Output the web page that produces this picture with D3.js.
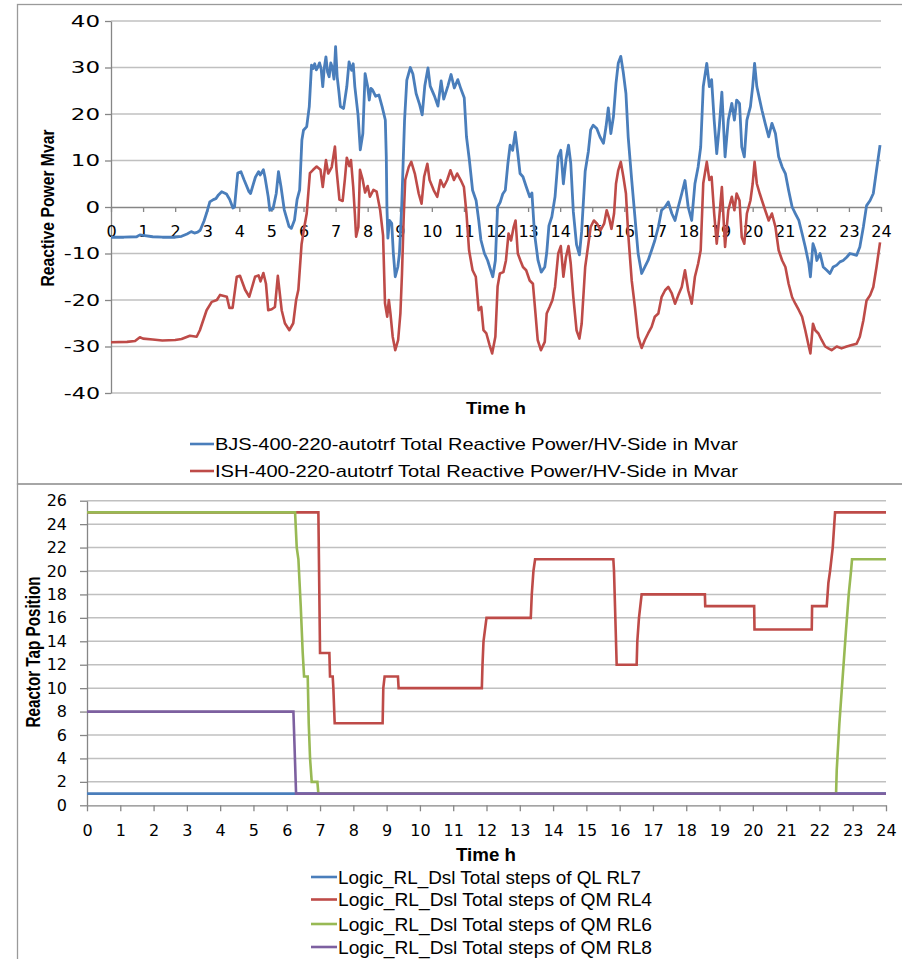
<!DOCTYPE html>
<html><head><meta charset="utf-8">
<script src="https://cdn.jsdelivr.net/npm/d3@7"></script>
<style>
html,body{margin:0;padding:0;background:#fff;}
svg{display:block;}
</style></head>
<body>
<svg id="c" width="902" height="959"></svg>
<script>
// ---------- DATA ----------
const hourTicks = d3.range(0, 25);
const mvarTicks = [-40, -30, -20, -10, 0, 10, 20, 30, 40];
const tapTicks = [0, 2, 4, 6, 8, 10, 12, 14, 16, 18, 20, 22, 24, 26];

const topLegend = ["BJS-400-220-autotrf Total Reactive Power/HV-Side in Mvar",
                   "ISH-400-220-autotrf Total Reactive Power/HV-Side in Mvar"];
const bottomLegend = ["Logic_RL_Dsl Total steps of QL RL7",
                      "Logic_RL_Dsl Total steps of QM RL4",
                      "Logic_RL_Dsl Total steps of QM RL6",
                      "Logic_RL_Dsl Total steps of QM RL8"];

const bjsTime = [0,0.4,0.8,0.9,1.0,1.3,1.6,2.0,2.2,2.37,2.5,2.6,2.7,2.78,2.9,2.98,3.08,3.19,3.27,3.35,3.45,3.6,3.7,3.8,3.85,3.95,4.05,4.15,4.3,4.35,4.5,4.6,4.65,4.75,4.8,4.9,4.95,5.05,5.15,5.22,5.3,5.4,5.55,5.62,5.72,5.8,5.88,5.95,6.0,6.1,6.18,6.25,6.3,6.35,6.4,6.45,6.5,6.55,6.6,6.65,6.7,6.75,6.8,6.85,6.9,6.95,7.0,7.05,7.1,7.15,7.25,7.35,7.42,7.5,7.55,7.6,7.7,7.77,7.85,7.92,8.0,8.05,8.1,8.15,8.25,8.35,8.45,8.55,8.58,8.6,8.63,8.68,8.75,8.8,8.86,8.94,8.99,9.06,9.15,9.22,9.33,9.41,9.51,9.62,9.7,9.78,9.88,9.95,10.08,10.19,10.29,10.37,10.5,10.6,10.7,10.81,10.91,11.01,11.08,11.17,11.27,11.38,11.46,11.53,11.64,11.74,11.82,11.9,11.98,12.05,12.13,12.21,12.29,12.37,12.44,12.52,12.6,12.68,12.75,12.84,12.94,13.05,13.12,13.2,13.31,13.41,13.52,13.58,13.65,13.74,13.84,13.94,14.02,14.1,14.18,14.26,14.33,14.41,14.51,14.6,14.67,14.78,14.88,14.95,15.03,15.14,15.24,15.35,15.43,15.5,15.58,15.66,15.74,15.81,15.89,15.97,16.05,16.12,16.23,16.33,16.43,16.54,16.64,16.74,16.85,16.95,17.06,17.16,17.27,17.37,17.48,17.58,17.68,17.79,17.89,17.99,18.1,18.2,18.3,18.38,18.46,18.57,18.65,18.72,18.8,18.88,18.96,19.04,19.14,19.24,19.35,19.43,19.5,19.59,19.66,19.74,19.82,19.93,20.0,20.06,20.13,20.22,20.29,20.39,20.5,20.6,20.71,20.81,20.92,21.02,21.12,21.23,21.33,21.44,21.54,21.64,21.75,21.8,21.88,21.95,22.0,22.1,22.2,22.31,22.41,22.51,22.62,22.72,22.82,22.93,23.03,23.14,23.24,23.34,23.45,23.55,23.66,23.76,23.86,23.97];
const bjsMvar = [-6.5,-6.5,-6.4,-6.0,-6.1,-6.4,-6.5,-6.5,-6.3,-5.8,-5.3,-5.6,-5.4,-5.0,-3.0,-1.3,1.1,1.6,1.8,2.6,3.3,2.8,1.6,-0.2,0.0,7.3,7.6,5.8,3.3,2.9,6.4,7.6,6.9,8.0,6.4,2.2,-0.7,-0.4,2.9,7.6,4.3,-0.6,-4.2,-4.6,-2.8,1.6,3.7,14.4,16.5,17.3,21.6,30.5,29.8,30.8,29.5,30.1,31.0,29.7,25.9,30.0,32.3,29.0,28.0,31.0,30.0,27.5,34.5,28.0,25.0,21.6,21.2,25.9,31.2,29.4,30.8,25.9,19.8,12.3,15.8,28.7,25.9,23.0,25.5,25.2,23.8,24.1,21.6,18.7,10.9,0.1,-6.7,-2.9,-3.5,-9.9,-15.0,-12.9,-10.0,0.0,18.7,27.3,30.0,28.6,24.4,22.0,19.8,26.0,29.9,26.0,23.9,21.7,27.1,23.2,26.0,28.5,25.6,27.4,25.3,23.5,15.1,10.1,3.6,1.4,-2.8,-7.1,-10.0,-11.5,-13.3,-15.0,-11.5,0.0,1.0,2.8,3.6,9.3,13.3,12.2,16.1,11.5,7.2,6.5,4.4,2.2,3.0,-5.7,-11.5,-14.0,-12.9,-9.9,-4.0,-2.1,2.2,10.8,12.2,5.0,10.1,13.3,9.4,-1.0,-8.1,-10.3,-5.2,7.7,12.0,16.6,17.6,16.9,15.1,13.7,17.3,21.3,15.8,19.4,26.6,30.9,32.4,28.8,24.4,15.1,5.8,-2.1,-10.0,-14.3,-12.9,-11.5,-9.3,-7.2,-4.3,-0.7,0.0,1.1,-1.4,-2.9,0.0,2.9,5.7,0.0,-2.9,5.0,8.6,12.9,25.9,30.9,25.9,27.4,18.7,11.5,17.3,24.7,10.8,18.7,22.3,18.7,23.0,22.3,12.9,10.8,18.7,21.6,25.9,30.9,25.9,23.0,20.8,18.0,15.1,18.0,15.8,10.8,8.6,7.2,3.6,0.0,-1.4,-2.9,-5.7,-8.6,-12.2,-15.0,-7.9,-9.3,-11.5,-10.0,-12.9,-13.6,-14.3,-12.9,-12.5,-11.8,-11.5,-10.8,-10.0,-10.2,-10.4,-8.6,-4.3,0.3,1.4,2.9,7.9,13.3];

const ishTime = [0,0.5,0.75,0.9,1.0,1.3,1.6,2.0,2.2,2.46,2.67,2.77,2.98,3.14,3.3,3.4,3.61,3.69,3.79,3.92,4.02,4.18,4.31,4.49,4.6,4.66,4.75,4.83,4.9,5.01,5.11,5.2,5.32,5.42,5.56,5.68,5.77,5.84,5.94,6.02,6.1,6.2,6.3,6.41,6.53,6.6,6.7,6.77,6.88,6.98,7.03,7.12,7.22,7.29,7.35,7.43,7.48,7.55,7.6,7.64,7.71,7.76,7.84,7.92,8.0,8.07,8.18,8.28,8.39,8.48,8.54,8.61,8.66,8.71,8.78,8.86,8.95,9.02,9.07,9.12,9.17,9.28,9.36,9.47,9.59,9.68,9.76,9.86,9.93,10.06,10.17,10.27,10.37,10.48,10.58,10.69,10.79,10.9,11.0,11.08,11.16,11.27,11.37,11.46,11.54,11.61,11.7,11.8,11.88,11.98,12.05,12.12,12.23,12.31,12.39,12.47,12.55,12.61,12.68,12.76,12.84,12.94,13.05,13.15,13.23,13.3,13.4,13.52,13.58,13.67,13.76,13.84,13.94,14.02,14.1,14.18,14.26,14.33,14.41,14.51,14.6,14.67,14.78,14.88,14.95,15.05,15.15,15.26,15.37,15.45,15.53,15.6,15.68,15.74,15.81,15.89,15.97,16.05,16.12,16.23,16.33,16.43,16.54,16.64,16.74,16.85,16.95,17.06,17.16,17.27,17.37,17.48,17.58,17.68,17.79,17.89,17.99,18.1,18.2,18.3,18.38,18.46,18.57,18.65,18.72,18.8,18.88,18.96,19.04,19.14,19.24,19.35,19.43,19.5,19.59,19.66,19.74,19.82,19.93,20.0,20.06,20.13,20.22,20.29,20.39,20.5,20.6,20.71,20.81,20.92,21.02,21.12,21.23,21.33,21.44,21.54,21.64,21.75,21.8,21.88,21.95,22.05,22.15,22.26,22.36,22.46,22.62,22.77,22.93,23.09,23.24,23.34,23.45,23.55,23.66,23.76,23.86,23.97];
const ishMvar = [-29.1,-29.0,-28.8,-28.0,-28.3,-28.5,-28.7,-28.6,-28.4,-27.7,-27.9,-26.5,-22.2,-20.4,-20.0,-18.9,-19.3,-21.7,-21.7,-15.0,-14.8,-17.8,-19.3,-15.0,-14.7,-16.0,-14.2,-16.5,-22.2,-22.0,-21.5,-14.8,-22.2,-25.0,-26.5,-25.0,-20.0,-17.8,-8.0,-4.5,-1.4,7.3,8.0,8.7,8.0,4.3,10.1,7.2,8.6,13.0,8.0,1.6,1.3,6.0,10.6,8.8,10.1,4.3,-1.4,-6.4,-4.3,8.0,6.0,3.1,4.5,2.2,3.7,3.3,-0.7,-6.1,-20.7,-23.6,-20.0,-22.9,-27.9,-30.8,-28.6,-22.9,-14.3,-2.8,5.8,8.6,9.7,7.2,2.9,0.7,6.5,9.3,5.8,3.6,2.2,5.8,4.3,5.8,7.9,5.8,7.2,5.8,4.3,-1.4,-9.3,-13.6,-15.0,-22.2,-21.5,-26.5,-27.2,-29.7,-31.5,-27.9,-17.1,-14.3,-14.0,-11.5,-5.7,-7.2,-4.3,-2.9,-10.0,-11.5,-12.9,-13.6,-15.8,-16.5,-22.9,-28.6,-30.8,-29.0,-22.9,-21.5,-20.0,-17.2,-10.0,-8.4,-15.0,-10.8,-8.4,-12.2,-19.4,-26.5,-28.3,-25.1,-12.9,-7.9,-4.3,-2.9,-3.6,-5.0,-3.6,-0.7,-2.5,-4.7,-1.4,5.0,7.9,9.7,6.5,2.9,-5.7,-15.8,-21.5,-27.9,-30.3,-28.6,-27.2,-25.8,-23.6,-22.9,-19.4,-17.9,-17.2,-18.6,-20.8,-19.0,-17.2,-13.6,-17.9,-20.8,-15.0,-12.2,-9.3,5.1,9.7,5.8,6.5,-1.4,-7.9,-2.2,4.3,-8.6,-0.7,2.2,-0.7,2.9,1.4,-6.5,-7.9,-1.4,1.4,5.0,9.7,5.0,2.9,1.4,-0.7,-2.9,-1.4,-4.3,-9.3,-11.5,-12.9,-16.5,-19.4,-20.8,-22.2,-23.6,-26.5,-30.0,-31.5,-25.1,-26.5,-27.2,-28.6,-30.0,-30.4,-30.8,-30.0,-30.4,-30.0,-29.7,-29.4,-27.9,-24.4,-20.1,-19.0,-17.2,-12.9,-7.6];

const rl7Time = [0, 24];
const rl7Steps = [1, 1];
const rl4Time = [0,6.95,7.0,7.28,7.3,7.38,7.4,7.44,8.88,8.9,8.94,9.34,9.36,11.86,11.88,11.91,12.0,13.33,13.36,13.41,13.46,15.81,15.83,15.86,15.91,16.51,16.53,16.58,16.66,18.56,18.57,20.04,20.05,21.77,21.78,22.22,22.27,22.32,22.4,22.47,24];
const rl4Steps = [25,25,13,13,11,11,10,7,7,10,11,11,10,10,12,14,16,16,18,20,21,21,20,17,12,12,14,16,18,18,17,17,15,15,17,17,19,20,22,25,25];
const rl6Time = [0,6.25,6.3,6.35,6.42,6.48,6.52,6.63,6.66,6.7,6.75,6.92,6.95,22.5,22.52,22.6,22.7,22.8,22.88,22.95,22.98,24];
const rl6Steps = [25,25,22,21,17,13,11,11,7,4,2,2,1,1,3,7,11,15,18,20,21,21];
const rl8Time = [0,6.2,6.28,24];
const rl8Steps = [8,8,1,1];

// ---------- COLOURS ----------
const cBlue = "#4a7ebb", cRed = "#be4b48", cGreen = "#98b954", cPurple = "#7d60a0";
const gridCol = "#c0c0c0", axisCol = "#868686", borderCol = "#9a9a9a";
const tickFont = "'DejaVu Sans', Verdana, sans-serif";
const textFont = "'Liberation Sans Narrow', 'Liberation Sans', Arial, sans-serif";
const plainFmt = d => String(d);

const svg = d3.select("#c");

// frames
svg.append("rect").attr("x",17.5).attr("y",4.5).attr("width",900).attr("height",479.5)
  .attr("fill","none").attr("stroke",borderCol).attr("stroke-width",1.3);
svg.append("rect").attr("x",17.5).attr("y",484).attr("width",900).attr("height",490)
  .attr("fill","none").attr("stroke",borderCol).attr("stroke-width",1.3);

function fitText(sel, len){ sel.attr("textLength",len).attr("lengthAdjust","spacingAndGlyphs"); }

// ---------- TOP CHART ----------
const xT = d3.scaleLinear().domain([0,24]).range([111,881]);
const yT = d3.scaleLinear().domain([-40,40]).range([393,21]);
const gT = svg.append("g");

gT.append("g").selectAll("line").data(mvarTicks.filter(d=>d!==0)).join("line")
  .attr("x1",xT(0)).attr("x2",xT(24)).attr("y1",d=>yT(d)).attr("y2",d=>yT(d))
  .attr("stroke",gridCol).attr("stroke-width",1.5);

const yAxT = gT.append("g").attr("transform",`translate(${xT(0)},0)`)
  .call(d3.axisLeft(yT).tickValues(mvarTicks).tickFormat(plainFmt).tickSize(6).tickPadding(5).tickSizeOuter(0));
yAxT.select(".domain").attr("stroke",axisCol).attr("stroke-width",1.3);
yAxT.selectAll(".tick line").attr("stroke",axisCol).attr("stroke-width",1.3);
yAxT.selectAll(".tick text").attr("font-family",tickFont).attr("font-size",16).attr("fill","#000")
  .each(function(d){ const s=String(d); const len = s.replace("-","").length*14.6 + (s[0]==="-"?7:0);
     d3.select(this).attr("textLength",len).attr("lengthAdjust","spacingAndGlyphs"); });

const xAxT = gT.append("g").attr("transform",`translate(0,${yT(0)})`)
  .call(d3.axisBottom(xT).tickValues(hourTicks).tickFormat(plainFmt).tickSize(5).tickPadding(14).tickSizeOuter(0));
xAxT.select(".domain").attr("stroke",axisCol).attr("stroke-width",1.3);
xAxT.selectAll(".tick line").attr("stroke",axisCol).attr("stroke-width",1.3);
xAxT.selectAll(".tick text").attr("font-family",tickFont).attr("font-size",16).attr("fill","#000");

const lineT = d3.line().x(d=>xT(d[0])).y(d=>yT(d[1])).curve(d3.curveLinear);
const ishPts = ishTime.map((t,i)=>[t,ishMvar[i]]);
const bjsPts = bjsTime.map((t,i)=>[t,bjsMvar[i]]);
gT.append("path").attr("d",lineT(ishPts)).attr("fill","none").attr("stroke",cRed)
  .attr("stroke-width",2.6).attr("stroke-linejoin","round");
gT.append("path").attr("d",lineT(bjsPts)).attr("fill","none").attr("stroke",cBlue)
  .attr("stroke-width",2.8).attr("stroke-linejoin","round");

svg.append("text").attr("x",496).attr("y",414).attr("text-anchor","middle")
  .attr("font-family",textFont).attr("font-weight","bold").attr("font-size",17).text("Time h").call(fitText,60);
svg.append("text").attr("transform","translate(54,208) rotate(-90)").attr("text-anchor","middle")
  .attr("font-family",textFont).attr("font-weight","bold").attr("font-size",19).text("Reactive Power Mvar").call(fitText,157);

const topCols = [cBlue, cRed];
const topLegY = [444, 471];
topLegend.forEach((t,i)=>{
  svg.append("line").attr("x1",190).attr("x2",214).attr("y1",topLegY[i]).attr("y2",topLegY[i])
    .attr("stroke",topCols[i]).attr("stroke-width",2.6);
  svg.append("text").attr("x",215).attr("y",topLegY[i]+6).attr("font-family",textFont)
    .attr("font-size",17).text(t).call(fitText,523);
});

// ---------- BOTTOM CHART ----------
const xB = d3.scaleLinear().domain([0,24]).range([87,886]);
const yB = d3.scaleLinear().domain([0,26]).range([805.3,500.7]);
const gB = svg.append("g");

gB.append("g").selectAll("line").data(tapTicks.filter(d=>d!==0)).join("line")
  .attr("x1",xB(0)).attr("x2",xB(24)).attr("y1",d=>yB(d)).attr("y2",d=>yB(d))
  .attr("stroke",gridCol).attr("stroke-width",1.5);

const yAxB = gB.append("g").attr("transform",`translate(${xB(0)},0)`)
  .call(d3.axisLeft(yB).tickValues(tapTicks).tickFormat(plainFmt).tickSize(7).tickPadding(13).tickSizeOuter(0));
yAxB.select(".domain").attr("stroke",axisCol).attr("stroke-width",1.3);
yAxB.selectAll(".tick line").attr("stroke",axisCol).attr("stroke-width",1.3);
yAxB.selectAll(".tick text").attr("font-family",tickFont).attr("font-size",16).attr("fill","#000");

const xAxB = gB.append("g").attr("transform",`translate(0,${yB(0)})`)
  .call(d3.axisBottom(xB).tickValues(hourTicks).tickFormat(plainFmt).tickSize(6).tickPadding(13).tickSizeOuter(0));
xAxB.select(".domain").attr("stroke",axisCol).attr("stroke-width",1.3);
xAxB.selectAll(".tick line").attr("stroke",axisCol).attr("stroke-width",1.3);
xAxB.selectAll(".tick text").attr("font-family",tickFont).attr("font-size",16).attr("fill","#000");

const lineB = d3.line().x(d=>xB(d[0])).y(d=>yB(d[1]));
const seriesB = [
  {t:rl7Time, v:rl7Steps, c:cBlue},
  {t:rl4Time, v:rl4Steps, c:cRed},
  {t:rl6Time, v:rl6Steps, c:cGreen},
  {t:rl8Time, v:rl8Steps, c:cPurple}
];
seriesB.forEach(s=>{
  gB.append("path").attr("d",lineB(s.t.map((t,i)=>[t,s.v[i]]))).attr("fill","none")
    .attr("stroke",s.c).attr("stroke-width",2.6).attr("stroke-linejoin","miter");
});

svg.append("text").attr("x",486).attr("y",861).attr("text-anchor","middle")
  .attr("font-family",textFont).attr("font-weight","bold").attr("font-size",18).text("Time h").call(fitText,60);
svg.append("text").attr("transform","translate(40,652) rotate(-90)").attr("text-anchor","middle")
  .attr("font-family",textFont).attr("font-weight","bold").attr("font-size",21).text("Reactor Tap Position").call(fitText,151);

const botLegY = [877, 899.5, 924, 947];
const botLegLen = [303, 314, 314, 314];
bottomLegend.forEach((t,i)=>{
  svg.append("line").attr("x1",311).attr("x2",337).attr("y1",botLegY[i]).attr("y2",botLegY[i])
    .attr("stroke",seriesB[i].c).attr("stroke-width",2.6);
  svg.append("text").attr("x",338).attr("y",botLegY[i]+6.5).attr("font-family",textFont)
    .attr("font-size",19).text(t).call(fitText,botLegLen[i]);
});
</script>
</body></html>
